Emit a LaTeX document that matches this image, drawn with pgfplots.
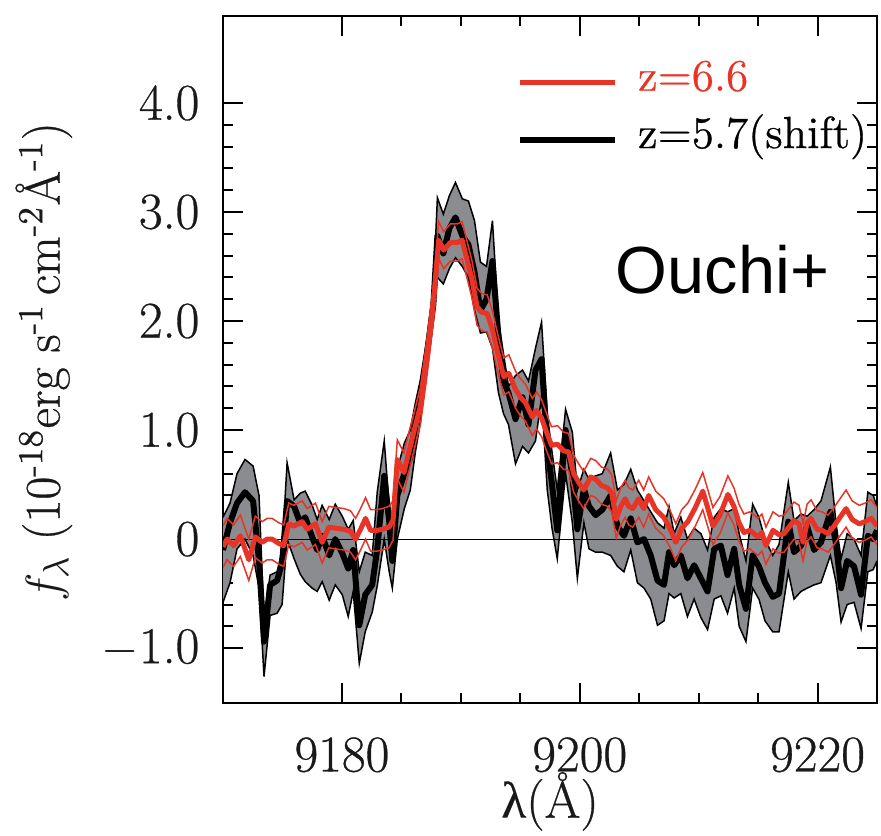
\documentclass[border=0pt]{standalone}
\usepackage{fontspec}
\setmainfont{Latin Modern Roman}[FakeBold=0.6]
\usepackage{pgfplots}
\usepackage{pgfplotstable}
\pgfplotsset{compat=1.18}
\usepgfplotslibrary{fillbetween}
\newfontfamily\helv{Liberation Sans}
\newfontfamily\grk{Liberation Serif}[FakeBold=0.3]
\definecolor{zred}{RGB}{232,52,38}
\definecolor{bandgray}{RGB}{138,140,144}

% z=5.7 composite (shifted): lambda, mean, lower and upper envelope
\pgfplotstableread{
lam mid lo hi
9170.00 -0.10 -0.58 0.20
9170.59 0.15 -0.40 0.33
9171.18 0.33 -0.09 0.60
9171.85 0.43 0.00 0.73
9172.53 0.35 -0.15 0.67
9173.03 -0.20 -0.45 0.40
9173.45 -0.94 -1.26 -0.75
9173.96 -0.42 -0.70 -0.33
9174.55 -0.38 -0.68 -0.30
9174.97 -0.22 -0.60 -0.10
9175.39 0.35 0.00 0.70
9175.98 0.30 -0.18 0.36
9176.49 0.15 -0.32 0.42
9176.91 0.20 -0.39 0.44
9177.50 0.02 -0.45 0.31
9177.92 -0.10 -0.48 0.18
9178.34 0.03 -0.39 0.31
9178.93 -0.15 -0.56 0.18
9179.44 0.00 -0.42 0.32
9180.03 -0.13 -0.51 0.21
9180.53 -0.27 -0.71 0.09
9180.95 -0.10 -0.48 0.17
9181.46 -0.79 -1.14 -0.30
9181.96 -0.51 -0.85 -0.12
9182.55 -0.42 -0.67 -0.15
9182.97 -0.09 -0.43 0.43
9183.56 0.58 0.00 0.90
9183.98 0.16 -0.30 0.30
9184.24 -0.20 -0.45 0.05
9184.66 0.40 0.00 0.64
9185.25 0.60 0.28 0.88
9185.75 0.75 0.45 1.00
9186.18 1.05 0.80 1.25
9186.60 1.27 1.07 1.46
9187.16 1.70 1.58 1.85
9187.69 2.15 2.05 2.30
9188.03 2.78 2.40 3.13
9188.53 2.62 2.34 2.98
9189.04 2.85 2.48 3.15
9189.55 2.95 2.58 3.27
9190.13 2.78 2.50 3.12
9190.64 2.70 2.40 3.10
9191.15 2.45 2.10 2.92
9191.65 2.10 1.89 2.54
9192.16 2.20 1.90 2.50
9192.66 2.55 1.75 2.92
9193.17 1.85 1.34 2.00
9193.59 1.45 1.15 1.70
9194.01 1.34 1.05 1.40
9194.60 1.10 0.69 1.50
9195.19 1.30 0.85 1.55
9195.69 1.05 0.79 1.45
9196.28 1.55 0.90 1.75
9196.79 1.65 1.30 1.99
9197.27 0.85 0.45 1.15
9197.67 0.50 0.10 0.80
9198.11 0.08 -0.18 0.45
9198.81 1.00 0.60 1.19
9199.38 0.58 0.15 0.98
9199.80 0.09 -0.36 0.45
9200.35 0.46 0.15 0.64
9200.78 0.30 -0.09 0.55
9201.34 0.22 -0.12 0.58
9201.90 0.27 -0.12 0.60
9202.60 0.40 -0.15 0.79
9203.17 0.12 -0.25 0.45
9203.72 0.03 -0.30 0.50
9204.29 0.19 -0.10 0.64
9204.85 -0.03 -0.40 0.45
9205.41 0.00 -0.45 0.35
9205.97 -0.15 -0.55 0.25
9206.54 -0.38 -0.79 0.15
9207.09 -0.42 -0.75 0.10
9207.51 -0.12 -0.50 0.30
9207.94 -0.24 -0.54 0.05
9208.50 -0.15 -0.50 0.20
9209.06 -0.36 -0.71 0.00
9209.62 -0.24 -0.55 0.10
9210.19 -0.36 -0.72 0.05
9210.75 -0.48 -0.83 -0.10
9211.31 -0.09 -0.55 0.20
9211.87 -0.06 -0.52 0.28
9212.43 -0.33 -0.68 0.25
9212.99 -0.09 -0.45 0.28
9213.41 -0.42 -0.80 0.05
9213.98 -0.64 -0.94 -0.20
9214.54 -0.15 -0.45 0.32
9215.07 -0.25 -0.55 0.20
9215.58 -0.40 -0.75 0.00
9216.23 -0.53 -0.85 -0.15
9216.76 -0.50 -0.85 -0.05
9217.54 0.16 -0.30 0.52
9218.02 -0.12 -0.55 0.17
9218.61 -0.06 -0.48 0.23
9219.12 0.12 -0.45 0.21
9219.71 -0.10 -0.42 0.27
9220.29 -0.03 -0.40 0.35
9221.08 0.25 -0.15 0.66
9221.56 -0.05 -0.40 0.14
9221.98 -0.45 -0.76 -0.18
9222.49 -0.20 -0.60 0.05
9223.07 -0.25 -0.58 0.00
9223.66 -0.51 -0.82 -0.15
9224.23 0.03 -0.30 0.43
9224.68 0.00 -0.28 0.40
9225.00 0.08 -0.20 0.30
}\blk

% z=6.6 composite: lambda, mean, 1-sigma
\pgfplotstableread{
lam mid err
9170.00 -0.07 0.19
9170.34 0.00 0.19
9170.90 -0.06 0.19
9171.46 0.03 0.19
9172.17 -0.19 0.19
9172.72 0.02 0.19
9173.29 -0.03 0.19
9173.71 0.00 0.19
9174.13 0.00 0.19
9174.69 -0.04 0.19
9175.11 -0.06 0.19
9175.53 0.14 0.19
9175.96 0.12 0.19
9176.66 0.16 0.19
9177.08 0.09 0.19
9177.78 0.14 0.19
9178.34 -0.03 0.19
9178.90 0.11 0.19
9179.46 0.10 0.19
9180.17 0.09 0.19
9180.72 0.07 0.19
9181.15 0.00 0.19
9181.57 0.09 0.19
9181.99 0.19 0.19
9182.41 0.08 0.19
9182.97 0.08 0.19
9183.40 0.09 0.19
9183.96 0.11 0.19
9184.30 0.17 0.18
9184.66 0.73 0.18
9185.22 0.61 0.18
9185.59 0.78 0.18
9186.09 1.00 0.17
9186.60 1.22 0.17
9187.16 1.67 0.17
9187.72 2.19 0.17
9188.14 2.74 0.17
9188.56 2.65 0.17
9189.12 2.72 0.17
9189.69 2.72 0.17
9190.11 2.74 0.17
9190.53 2.56 0.17
9190.94 2.38 0.17
9191.37 2.13 0.17
9191.78 2.08 0.17
9192.22 2.07 0.17
9192.66 1.92 0.17
9193.08 1.72 0.17
9193.61 1.49 0.17
9194.04 1.52 0.17
9194.60 1.37 0.17
9195.02 1.30 0.17
9195.44 1.25 0.17
9196.01 1.12 0.17
9196.37 1.18 0.17
9196.79 1.11 0.17
9197.21 0.98 0.17
9197.63 0.86 0.17
9198.14 0.87 0.17
9198.64 0.81 0.17
9199.06 0.80 0.17
9199.49 0.60 0.17
9199.91 0.52 0.17
9200.33 0.45 0.17
9200.92 0.57 0.17
9201.34 0.55 0.17
9201.84 0.49 0.17
9202.35 0.47 0.17
9202.69 0.42 0.17
9203.07 0.18 0.17
9203.45 0.30 0.17
9203.82 0.37 0.17
9204.12 0.30 0.17
9204.46 0.28 0.17
9204.96 0.37 0.17
9205.38 0.28 0.17
9205.80 0.40 0.17
9206.39 0.27 0.17
9207.07 0.20 0.17
9207.57 0.10 0.17
9208.08 -0.03 0.17
9208.58 0.10 0.17
9209.09 0.16 0.17
9209.68 0.28 0.17
9210.35 0.44 0.17
9210.78 0.28 0.17
9211.20 0.12 0.17
9211.79 0.22 0.17
9212.46 0.41 0.17
9212.97 0.30 0.17
9213.39 0.15 0.17
9213.81 0.06 0.17
9214.31 0.08 0.17
9214.99 0.02 0.17
9215.32 0.06 0.17
9215.66 -0.06 0.17
9216.25 0.08 0.17
9216.76 0.04 0.17
9217.18 0.05 0.17
9217.60 0.11 0.17
9218.02 0.17 0.17
9218.44 0.14 0.17
9218.78 -0.03 0.17
9219.12 0.15 0.17
9219.45 0.19 0.17
9219.96 0.09 0.17
9220.38 0.08 0.17
9220.88 0.05 0.17
9221.39 0.12 0.17
9221.89 0.20 0.17
9222.40 0.28 0.17
9222.91 0.18 0.17
9223.50 0.14 0.17
9224.00 0.16 0.17
9224.51 0.19 0.17
9225.00 0.12 0.17
}\zsix

\begin{document}
\begin{tikzpicture}
\begin{axis}[
  name=ax,
  scale only axis,
  width=196.2pt, height=206.1pt,
  xmin=9170, xmax=9225, ymin=-1.5, ymax=4.8,
  xtick={9180,9200,9220}, xticklabels={9180,9200,9220},
  minor x tick num=3,
  ytick={-1,0,1,2,3,4},
  yticklabels={$-$1.0,0,1.0,2.0,3.0,4.0},
  minor y tick num=4,
  tick align=inside,
  major tick length=6pt, minor tick length=3pt,
  every tick/.style={black, line width=0.6pt},
  axis line style={line width=0.6pt},
  tick label style={font=\fontsize{15.5}{18}\selectfont, inner sep=0pt, text=black!90},
  xticklabel shift=10.2pt,
  yticklabel shift=6.9pt,
  xlabel={{\grk λ}(Å)},
  xlabel style={font=\fontsize{15.5}{18}\selectfont, text=black!90, inner sep=0pt,
    at={(axis description cs:0.5,-0.1674)}, anchor=base},
  ylabel={$f_{\lambda}$\ (10\textsuperscript{-18}erg s\textsuperscript{-1}\,cm\textsuperscript{-2}Å\textsuperscript{-1})},
  ylabel style={font=\fontsize{15}{18}\selectfont, text=black!90, inner sep=0pt,
    at={(axis description cs:-0.274,0.496)}, anchor=center},
  legend style={draw=none, fill=none, at={(axis description cs:0.449,0.933)},
    anchor=north west, font=\fontsize{13.5}{15}\selectfont, row sep=5.2pt,
    column sep=4.9pt, inner sep=0pt,
    nodes={inner sep=1pt, text height=0.75em, text depth=0.25em}},
  legend cell align=left,
  legend image code/.code={\draw[#1] (0pt,0pt) -- (28.5pt,0pt);},
]
\addlegendimage{zred, line width=1.5pt}
\addlegendentry{\textcolor{zred}{z=6.6}}
\addlegendimage{black, line width=1.8pt}
\addlegendentry{z=5.7(shift)}

% envelope of the z=5.7 spectrum
\addplot[name path=bup, draw=none, forget plot] table[x=lam, y=hi] {\blk};
\addplot[name path=blo, draw=none, forget plot] table[x=lam, y=lo] {\blk};
\addplot[bandgray, forget plot] fill between[of=bup and blo];
\addplot[black, line width=0.45pt, forget plot] table[x=lam, y=hi] {\blk};
\addplot[black, line width=0.45pt, forget plot] table[x=lam, y=lo] {\blk};

% zero level
\addplot[black, line width=0.35pt, forget plot] coordinates {(9170,0) (9225,0)};

% z=5.7 mean
\addplot[black, line width=1.8pt, line join=round, forget plot] table[x=lam, y=mid] {\blk};

% z=6.6 mean and 1-sigma
\addplot[zred, line width=0.45pt, forget plot] table[x=lam, y expr=\thisrow{mid}+\thisrow{err}] {\zsix};
\addplot[zred, line width=0.45pt, forget plot] table[x=lam, y expr=\thisrow{mid}-\thisrow{err}] {\zsix};
\addplot[zred, line width=1.5pt, line join=round, forget plot] table[x=lam, y=mid] {\zsix};

\node[anchor=base, font=\helv\fontsize{20}{24}\selectfont] at (axis cs:9212,2.254) {Ouchi+};
\end{axis}
\pgfresetboundingbox
\path[use as bounding box] ([shift={(-66.9pt,-39.9pt)}]ax.south west) rectangle ([shift={(1.2pt,4.7pt)}]ax.north east);
\end{tikzpicture}
\end{document}
